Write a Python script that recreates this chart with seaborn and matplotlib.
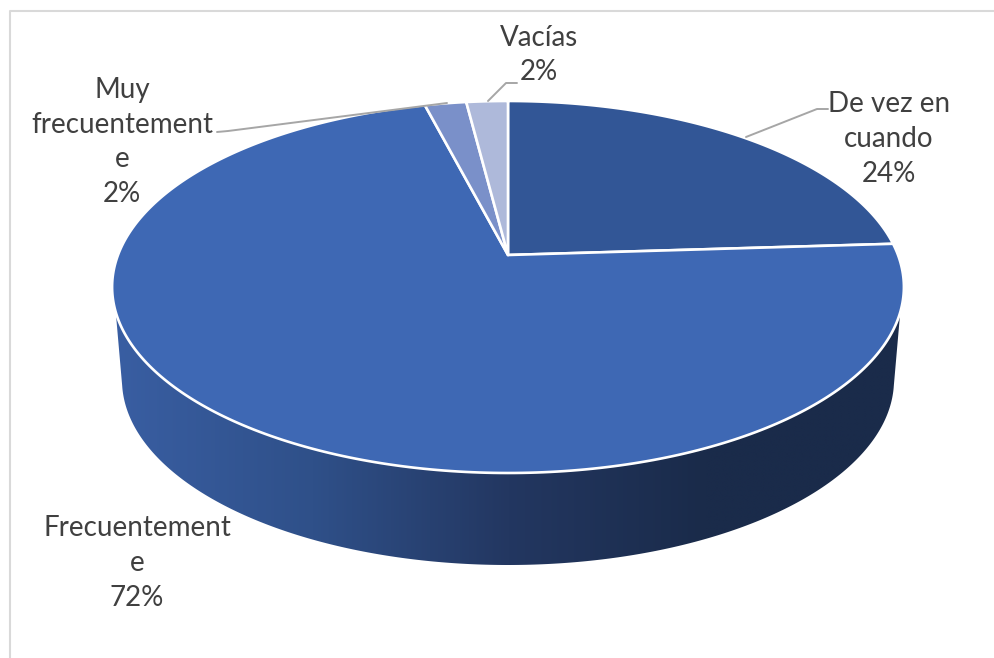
import numpy as np
import matplotlib
matplotlib.use("Agg")
import matplotlib.pyplot as plt
from matplotlib.patches import Polygon
import seaborn as sns

# data
categories = ["De vez en\ncuando", "Frecuentement\ne", "Muy\nfrecuentement\ne", "Vacías"]
percent = [24, 72, 2, 2]
slice_colors = ["#325696", "#3E68B4", "#7A90C9", "#AEB9DA"]
wall_colors = ["#395EA2", "#2F5089", "#233761", "#1A2B4A", "#1A2B4A"]

# label placement, pixels
label_x = [889, 137, 122, 539]
label_y = [139, 563, 142, 55]
leaders = [
    [(746, 137), (817, 109), (828, 109)],
    None,
    [(447, 103), (228, 131), (217, 132)],
    [(488, 101), (506, 83), (517, 83)],
]

sns.set_theme(style="white")
plt.rcParams["font.family"] = ["Lato", "DejaVu Sans"]

fig = plt.figure(figsize=(9.95, 6.58), dpi=100)
ax = fig.add_axes([0, 0, 1, 1])

# ============================================================
# Perspective disc: unit circle -> screen
# ============================================================
apex_x, apex_y = 508, 255
a, b, k = 390, 180.5, 0.172


def project(theta):
    # theta clockwise from the top of the disc
    u, v = np.sin(theta), np.cos(theta)
    w = 1 + k * v
    return apex_x + a * u / w, apex_y - b * v / w


# ============================================================
# Side wall with left-to-right gradient
# ============================================================
t = np.linspace(0, 2 * np.pi, 721)
top_x, top_y = project(t)
front = top_y >= 312
order = np.argsort(top_x[front])
rim_x, rim_y = top_x[front][order], top_y[front][order]

s = np.linspace(np.pi, 0, 300)
low_x = 508 + 386 * np.cos(s)
low_y = 380 + 185 * np.sin(s)
keep = low_y >= 385
wall_pts = np.vstack([np.column_stack([rim_x, rim_y]),
                      np.column_stack([low_x[keep][::-1], low_y[keep][::-1]])])

grad = np.array(sns.blend_palette(wall_colors, n_colors=256))[np.newaxis, :, :3]
x_left, x_right = rim_x.min(), rim_x.max()
img = ax.imshow(grad, extent=(x_left, x_right, 570, 300), aspect="auto",
                interpolation="bilinear", zorder=1)
wall = Polygon(wall_pts, closed=True, transform=ax.transData, facecolor="none", edgecolor="none")
ax.add_patch(wall)
img.set_clip_path(wall)

# ============================================================
# Top of the pie
# ============================================================
edges = np.cumsum([0] + percent) / sum(percent) * 2 * np.pi
for i, color in enumerate(slice_colors):
    th = np.linspace(edges[i], edges[i + 1], 300)
    xs, ys = project(th)
    ax.fill(np.r_[apex_x, xs], np.r_[apex_y, ys], facecolor=color,
            edgecolor="white", linewidth=1.9, joinstyle="round", zorder=2)

# ============================================================
# Labels and leader lines
# ============================================================
for name, val, lx, ly, lead in zip(categories, percent, label_x, label_y, leaders):
    ax.text(lx, ly, f"{name}\n{val}%", ha="center", va="center", fontsize=20,
            color="#404040", linespacing=1.41, zorder=4)
    if lead is not None:
        ax.plot(*zip(*lead), color="#A6A6A6", linewidth=1.4, zorder=3)

# chart frame: only the top and left edges show in the crop
ax.plot([9.5, 9.5, 995], [658, 10.5, 10.5], color="#D9D9D9", linewidth=1.5, zorder=0)

ax.set_xlim(0, 995)
ax.set_ylim(658, 0)
ax.axis("off")

fig.savefig("out.png", dpi=100)
